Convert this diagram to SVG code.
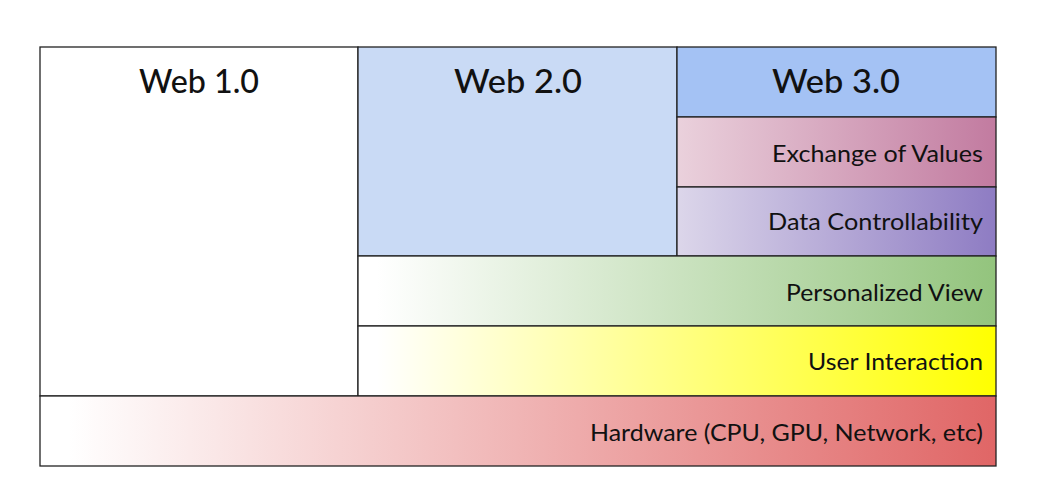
<svg xmlns="http://www.w3.org/2000/svg" width="1057" height="495" viewBox="0 0 1057 495">
<style>
.box{stroke:#222;stroke-width:1.3}
.title{font-family:Lato,"Noto Sans",sans-serif;font-size:33px;font-weight:500;fill:#111;text-anchor:middle}
.lbl{font-family:Lato,"Noto Sans",sans-serif;font-size:24px;fill:#111;text-anchor:end}
</style>
<defs>
<linearGradient id="gEx" x1="0" y1="0" x2="1" y2="0"><stop offset="0" stop-color="#ead1dc"/><stop offset="1" stop-color="#c27ba0"/></linearGradient>
<linearGradient id="gDc" x1="0" y1="0" x2="1" y2="0"><stop offset="0" stop-color="#dcd6ea"/><stop offset="1" stop-color="#8e7cc3"/></linearGradient>
<linearGradient id="gPv" x1="0" y1="0" x2="1" y2="0"><stop offset="0.03" stop-color="#ffffff"/><stop offset="1" stop-color="#93c47d"/></linearGradient>
<linearGradient id="gUi" x1="0" y1="0" x2="1" y2="0"><stop offset="0.03" stop-color="#ffffff"/><stop offset="1" stop-color="#ffff00"/></linearGradient>
<linearGradient id="gHw" x1="0" y1="0" x2="1" y2="0"><stop offset="0.03" stop-color="#ffffff"/><stop offset="1" stop-color="#e06666"/></linearGradient>
</defs>
<rect width="1057" height="495" fill="#ffffff"/>
<g id="web1"><rect class="box" x="40" y="47" width="318" height="349" fill="#ffffff"/><text class="title" x="199" y="93" textLength="120" lengthAdjust="spacingAndGlyphs">Web 1.0</text></g>
<g id="web2"><rect class="box" x="358" y="47" width="319" height="209" fill="#c9daf5"/><text class="title" x="518" y="93" textLength="128" lengthAdjust="spacingAndGlyphs">Web 2.0</text></g>
<g id="web3"><rect class="box" x="677" y="47" width="319" height="70" fill="#a4c2f4"/><text class="title" x="836" y="93" textLength="128" lengthAdjust="spacingAndGlyphs">Web 3.0</text></g>
<g id="exchange"><rect class="box" x="677" y="117" width="319" height="70" fill="url(#gEx)"/><text class="lbl" x="983" y="162" textLength="211" lengthAdjust="spacingAndGlyphs">Exchange of Values</text></g>
<g id="data"><rect class="box" x="677" y="187" width="319" height="69" fill="url(#gDc)"/><text class="lbl" x="983" y="230" textLength="215" lengthAdjust="spacingAndGlyphs">Data Controllability</text></g>
<g id="personalized"><rect class="box" x="358" y="256" width="638" height="70" fill="url(#gPv)"/><text class="lbl" x="983" y="301" textLength="197" lengthAdjust="spacingAndGlyphs">Personalized View</text></g>
<g id="user"><rect class="box" x="358" y="326" width="638" height="70" fill="url(#gUi)"/><text class="lbl" x="983" y="370" textLength="175" lengthAdjust="spacingAndGlyphs">User Interaction</text></g>
<g id="hardware"><rect class="box" x="40" y="396" width="956" height="70" fill="url(#gHw)"/><text class="lbl" x="983" y="441" textLength="393" lengthAdjust="spacingAndGlyphs">Hardware (CPU, GPU, Network, etc)</text></g>
<g id="connectors"/>
</svg>
